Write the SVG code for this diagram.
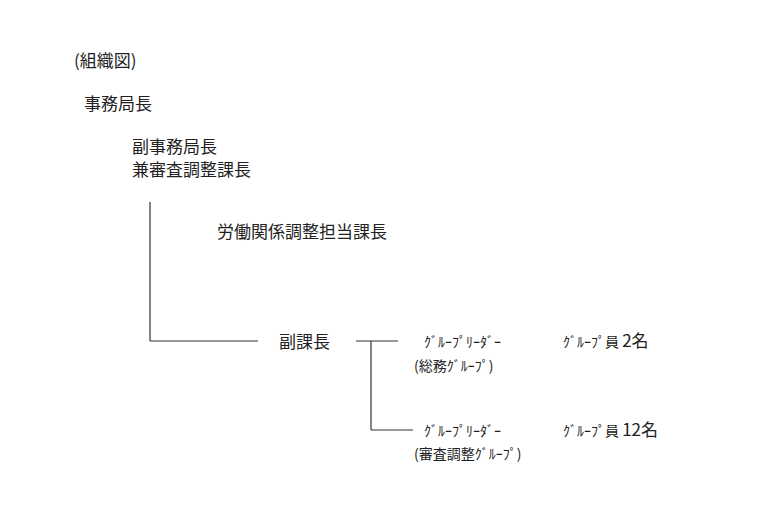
<svg xmlns="http://www.w3.org/2000/svg" width="778" height="523" viewBox="0 0 778 523">
<style>
text{font-family:"Noto Sans CJK JP","Liberation Sans",sans-serif;fill:#222}
.l{font-size:17px}
.s{font-size:14px}
.c line{stroke:#333;stroke-width:1.2}
</style>
<rect width="778" height="523" fill="#fff"/>
<g id="title"><text class="l" x="74" y="67">(組織図)</text></g>
<g id="n1"><text class="l" x="84" y="110">事務局長</text></g>
<g id="n2"><text class="l" x="132" y="153">副事務局長</text><text class="l" x="132" y="176">兼審査調整課長</text></g>
<g id="n3"><text class="l" x="217" y="238">労働関係調整担当課長</text></g>
<g id="n4"><text class="l" x="279" y="348">副課長</text></g>
<g id="g1"><text class="s" x="424" y="347">ｸﾞﾙｰﾌﾟﾘｰﾀﾞｰ</text><text class="s" x="414" y="371">(総務ｸﾞﾙｰﾌﾟ)</text><text class="s" x="563" y="347">ｸﾞﾙｰﾌﾟ員 <tspan class="l">2名</tspan></text></g>
<g id="g2"><text class="s" x="424" y="436">ｸﾞﾙｰﾌﾟﾘｰﾀﾞｰ</text><text class="s" x="414" y="459">(審査調整ｸﾞﾙｰﾌﾟ)</text><text class="s" x="563" y="436">ｸﾞﾙｰﾌﾟ員 <tspan class="l">12名</tspan></text></g>
<g class="c" id="connectors">
<line x1="150" y1="202" x2="150" y2="341"/>
<line x1="150" y1="341" x2="258" y2="341"/>
<line x1="356" y1="341" x2="398" y2="341"/>
<line x1="371" y1="341" x2="371" y2="430"/>
<line x1="371" y1="430" x2="413" y2="430"/>
</g>
</svg>
